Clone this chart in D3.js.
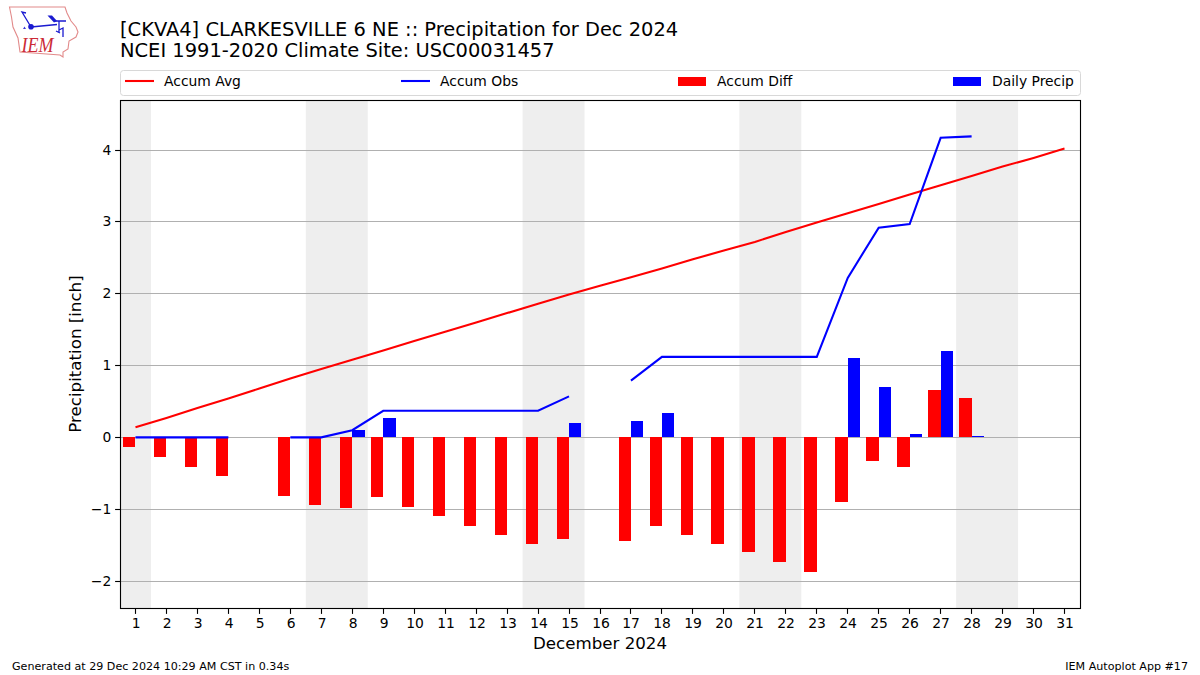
<!DOCTYPE html>
<html><head><meta charset="utf-8">
<script src="https://cdn.jsdelivr.net/npm/d3@7"></script>
<style>html,body{margin:0;padding:0;background:#fff}svg{display:block}text{font-family:"DejaVu Sans",sans-serif;fill:#000}</style>
</head><body><svg id="c" width="1200" height="675"></svg>
<script>
const days = d3.range(1, 32);
const accumAvg = [0.14,0.27,0.41,0.54,0.68,0.82,0.95,1.08,1.21,1.34,1.47,1.60,1.73,1.86,1.99,2.11,2.23,2.35,2.48,2.60,2.72,2.86,2.99,3.12,3.25,3.38,3.51,3.64,3.77,3.89,4.02];
const accumObs = [0,0,0,0,null,0,0,0.10,0.37,0.37,0.37,0.37,0.37,0.37,0.57,null,0.79,1.12,1.12,1.12,1.12,1.12,1.12,2.22,2.92,2.97,4.17,4.19,null,null,null];
const accumDiff = [-0.14,-0.28,-0.41,-0.54,null,-0.82,-0.94,-0.99,-0.83,-0.97,-1.10,-1.24,-1.36,-1.49,-1.42,null,-1.44,-1.24,-1.36,-1.49,-1.60,-1.74,-1.87,-0.90,-0.33,-0.41,0.66,0.55,null,null,null];
const dailyPrecip = [0,0,0,0,null,0,0,0.10,0.27,0,0,0,0,0,0.20,null,0.23,0.34,0,0,0,0,0,1.10,0.70,0.05,1.20,0.02,null,null,null];
const weekends = [[0.5,1.5],[6.5,8.5],[13.5,15.5],[20.5,22.5],[27.5,29.5]];
const yTicks = [-2,-1,0,1,2,3,4];
const legendItems = [
  {label:"Accum Avg",kind:"line",color:"#ff0000",x:125},
  {label:"Accum Obs",kind:"line",color:"#0000ff",x:401},
  {label:"Accum Diff",kind:"bar",color:"#ff0000",x:678},
  {label:"Daily Precip",kind:"bar",color:"#0000ff",x:953}
];
const titleLines = ["[CKVA4] CLARKESVILLE 6 NE :: Precipitation for Dec 2024","NCEI 1991-2020 Climate Site: USC00031457"];

const L=120,R=1080,T=100.5,B=608.5;
const svg=d3.select("#c");
const x=d3.scaleLinear().domain([0.5,31.5]).range([L,R]);
const y=d3.scaleLinear().domain([-2.3827,4.6895]).range([B,T]);
const barW=0.4;
const snap=v=>Math.floor(v)+0.5;

// logo
const logo=svg.append("g");
logo.append("path").attr("d","M9.5 7 L65 7 L67 13 L71 21 L76 27 L78 32 L76 37 L69 41 L68 49 L63 52 L63 57 L60 55 L20 52 L18 38 L13 27 L11.5 17 Z")
  .attr("fill","none").attr("stroke","#e28a8a").attr("stroke-width",1.1);
logo.append("path").attr("d","M31 27 L57 24.5 M31 27 L22 12 L26 13 M55 21 L66 21 M59 21 L59 33 M59 30 L63 28 L63 37 M56 31 L60 33")
  .attr("fill","none").attr("stroke","#1a1ad0").attr("stroke-width",1.3);
logo.append("path").attr("d","M47.5 15.5 L52 15.5 L57 21 L54 22.5 Z").attr("fill","#1a1ad0");
logo.append("circle").attr("cx",31).attr("cy",26.8).attr("r",2.8).attr("fill","#1a1ad0");
logo.append("path").attr("d","M23 29 L24.5 26.5 L26 29 Z").attr("fill","#3a3ad8");
logo.append("text").attr("x",21.5).attr("y",52).attr("font-size",21).attr("font-style","italic")
  .attr("textLength",32).attr("lengthAdjust","spacingAndGlyphs")
  .style("font-family","'Liberation Serif',serif").style("fill","#cc2a36").text("IEM");

// title
svg.selectAll(".t").data(titleLines).enter().append("text").attr("class","t")
  .attr("x",120).attr("y",(d,i)=>i?57:36).attr("font-size",19.44).text(d=>d);

// legend
svg.append("rect").attr("x",120.5).attr("y",70.5).attr("width",960).attr("height",25).attr("rx",3)
  .attr("fill","#fff").attr("stroke","#d8d8d8");
const lg=svg.selectAll(".lg").data(legendItems).enter().append("g").attr("class","lg");
lg.filter(d=>d.kind==="line").append("line").attr("x1",d=>d.x).attr("x2",d=>d.x+29).attr("y1",81).attr("y2",81)
  .attr("stroke",d=>d.color).attr("stroke-width",2.08);
lg.filter(d=>d.kind==="bar").append("rect").attr("x",d=>d.x).attr("width",28).attr("y",77).attr("height",9).attr("fill",d=>d.color);
lg.append("text").attr("x",d=>d.x+39).attr("y",86).attr("font-size",13.89).text(d=>d.label);

// weekends
svg.selectAll(".we").data(weekends).enter().append("rect").attr("class","we")
  .attr("x",d=>x(d[0])).attr("width",d=>x(d[1])-x(d[0])).attr("y",T).attr("height",B-T).attr("fill","#eeeeee");

// grid
svg.selectAll(".g").data(yTicks).enter().append("line").attr("class","g")
  .attr("x1",L).attr("x2",R).attr("y1",d=>snap(y(d))).attr("y2",d=>snap(y(d)))
  .attr("stroke","#b0b0b0").attr("stroke-width",1.1);

// bars
const diffRows=days.map((d,i)=>({d,v:accumDiff[i]})).filter(r=>r.v!==null);
const precipRows=days.map((d,i)=>({d,v:dailyPrecip[i]})).filter(r=>r.v);
const ry=v=>Math.round(y(v)), rx=v=>Math.round(x(v));
svg.selectAll(".bd").data(diffRows).enter().append("rect").attr("class","bd")
  .attr("x",r=>rx(r.d-barW)).attr("width",r=>rx(r.d)-rx(r.d-barW))
  .attr("y",r=>Math.min(ry(0),ry(r.v))).attr("height",r=>Math.abs(ry(r.v)-ry(0))).attr("fill","#ff0000");
svg.selectAll(".bp").data(precipRows).enter().append("rect").attr("class","bp")
  .attr("x",r=>rx(r.d)).attr("width",r=>rx(r.d+barW)-rx(r.d))
  .attr("y",r=>ry(r.v)).attr("height",r=>ry(0)-ry(r.v)).attr("fill","#0000ff");

// lines
const ln=d3.line().defined(r=>r.v!==null).x(r=>x(r.d)).y(r=>y(r.v));
svg.append("path").attr("d",ln(days.map((d,i)=>({d,v:accumAvg[i]})))).attr("fill","none").attr("stroke","#ff0000").attr("stroke-width",2.08);
svg.append("path").attr("d",ln(days.map((d,i)=>({d,v:accumObs[i]})))).attr("fill","none").attr("stroke","#0000ff").attr("stroke-width",2.08);

// frame
svg.append("rect").attr("x",120.5).attr("y",100.5).attr("width",960).attr("height",508).attr("fill","none").attr("stroke","#000").attr("stroke-width",1.11);

// axes
const xAxis=d3.axisBottom(x).tickValues(days).tickFormat(d3.format("d")).tickSize(4.9).tickPadding(4.5).offset(0);
const gx=svg.append("g").attr("transform",`translate(0,${B+0.5})`).call(xAxis);
gx.selectAll(".tick").attr("transform",d=>`translate(${snap(x(d))},0)`);
gx.selectAll("text").attr("x",0.6);
const yAxis=d3.axisLeft(y).tickValues(yTicks).tickFormat(d=>String(d).replace("-","\u2212")).tickSize(4.9).tickPadding(3.8).offset(0);
const gy=svg.append("g").attr("transform","translate(120,0)").call(yAxis);
gy.selectAll(".tick").attr("transform",d=>`translate(0,${snap(y(d))})`);
[gx,gy].forEach(g=>{g.select(".domain").remove();g.selectAll("text").attr("font-size",13.89).style("font-family","'DejaVu Sans',sans-serif");g.selectAll("line").attr("stroke","#000").attr("stroke-width",1.11);});

svg.append("text").attr("x",600).attr("y",649).attr("text-anchor","middle").attr("font-size",16.67).text("December 2024");
svg.append("text").attr("transform","translate(81,354) rotate(-90)").attr("text-anchor","middle").attr("font-size",16.67).text("Precipitation [inch]");

svg.append("text").attr("x",12).attr("y",670).attr("font-size",11.11).text("Generated at 29 Dec 2024 10:29 AM CST in 0.34s");
svg.append("text").attr("x",1188).attr("y",670).attr("text-anchor","end").attr("font-size",11.11).text("IEM Autoplot App #17");
</script></body></html>
